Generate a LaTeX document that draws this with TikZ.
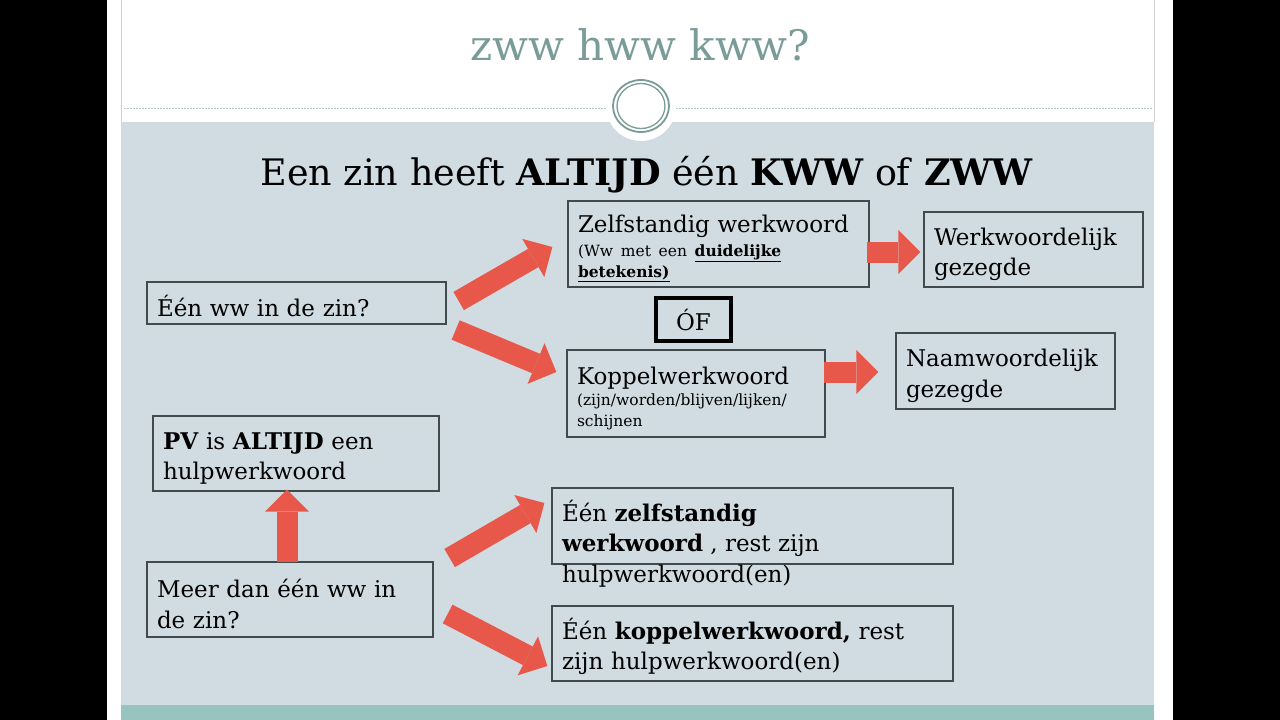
\documentclass[tikz,border=0pt]{standalone}
\usepackage{fontspec}
\setmainfont{DejaVu Serif}
\usetikzlibrary{arrows.meta,calc}

\definecolor{panel}{RGB}{208,220,225}
\definecolor{teal}{RGB}{122,156,152}
\definecolor{bar}{RGB}{152,196,192}
\definecolor{arrowred}{RGB}{232,88,74}
\definecolor{boxline}{RGB}{66,74,78}

\newcommand{\smalltxt}{\fontsize{15.5}{21}\selectfont}

\tikzset{
  box/.style={draw=boxline, line width=1.3pt, inner xsep=10pt, inner ysep=4pt,
    align=left, font=\fontsize{23}{30.5}\selectfont},
  lowbox/.style={box, execute at begin node={\rule{0pt}{27pt}}},
  bigarrow/.style={draw=arrowred, line width=21pt,
    -{Triangle[width=44pt,length=22pt,line width=0pt]}},
}

\begin{document}
\begin{tikzpicture}[x=1pt,y=-1pt]
\useasboundingbox (0,0) rectangle (1280,720);

% slide background
\fill[black] (0,0) rectangle (1280,720);
\fill[white] (107,0) rectangle (1173,720);
\fill[panel] (121,122) rectangle (1154,705);
\fill[bar] (121,705) rectangle (1154,720);
\draw[black!18] (121,0) -- (121,122) (1154,0) -- (1154,122);
\draw[teal!55, dash pattern=on 2pt off 1pt] (124,108) -- (1152,108);
\fill[white] (641,106) ellipse [x radius=35, y radius=35];
\draw[teal, line width=1.8pt] (641,106) ellipse [x radius=28, y radius=26];
\draw[teal, line width=1.3pt] (641,106) ellipse [x radius=24, y radius=22.5];

% headings
\node[teal, anchor=base, font=\fontsize{42}{50}\selectfont] (title) at (640,60) {zww hww kww?};
\node[anchor=base, font=\fontsize{36.5}{44}\selectfont] (rule) at (647,185)
  {Een zin heeft \textbf{ALTIJD} één \textbf{KWW} of \textbf{ZWW}};

% boxes
\node[lowbox, text width=279pt, minimum height=42pt] (een) at (296.5,303) {Één ww in de zin?};
\node[lowbox, text width=281pt, minimum height=86pt] (zelf) at (718.5,244)
  {Zelfstandig werkwoord\par\vspace{3pt}
   {\smalltxt (Ww met een \textbf{\underline{duidelijke}}\par \textbf{\underline{betekenis)}}\par}};
\node[draw=black, line width=4pt, minimum width=75pt, minimum height=43pt,
  font=\fontsize{23}{30}\selectfont] (of) at (693.5,319.5) {ÓF};
\node[lowbox, text width=238pt, minimum height=87pt] (koppel) at (696,393.5)
  {Koppelwerkwoord\par
   {\smalltxt (zijn/worden/blijven/lijken/\par schijnen\par}};
\node[lowbox, text width=199pt, minimum height=75pt] (wwg) at (1033.5,249.5) {Werkwoordelijk\\ gezegde};
\node[lowbox, text width=199pt, minimum height=76pt] (nwg) at (1005.5,371) {Naamwoordelijk\\ gezegde};
\node[lowbox, text width=266pt, minimum height=75pt] (pv) at (296,453.5)
  {\textbf{PV} is \textbf{ALTIJD} een\\ hulpwerkwoord};
\node[lowbox, text width=266pt, minimum height=75pt] (meer) at (290,599.5) {Meer dan één ww in\\ de zin?};
\node[box, inner ysep=7pt] (eenzelf) at (752.5,526)
  {\parbox[t][62pt][t]{381pt}{\rule{0pt}{26pt}Één \textbf{zelfstandig}\\
   \textbf{werkwoord} , rest zijn\\ hulpwerkwoord(en)}};
\node[lowbox, text width=381pt, minimum height=75pt] (eenkop) at (752.5,643.5)
  {Één \textbf{koppelwerkwoord,} rest\\ zijn hulpwerkwoord(en)};

% arrow ends
\coordinate (eenZelf) at ($(een.east)+(12,-2)$);
\coordinate (zelfIn) at ($(zelf.west)+(-15,3)$);
\coordinate (eenKoppel) at ($(een.east)+(9,27)$);
\coordinate (koppelIn) at ($(koppel.west)+(-10,-21.5)$);
\coordinate (zelfOut) at ($(zelf.east)+(-3,8)$);
\coordinate (wwgIn) at ($(wwg.west)+(-3,2.5)$);
\coordinate (koppelOut) at ($(koppel.east)+(-2,-21.5)$);
\coordinate (nwgIn) at ($(nwg.west)+(-17,1)$);
\coordinate (meerUp) at ($(meer.north)+(-3,1)$);
\coordinate (pvIn) at ($(pv.south)+(-9,-2)$);
\coordinate (meerZelf) at ($(meer.east)+(16,-41.5)$);
\coordinate (eenzelfIn) at ($(eenzelf.west)+(-7,-23)$);
\coordinate (meerKoppel) at ($(meer.east)+(14,14.5)$);
\coordinate (eenkopIn) at ($(eenkop.west)+(-4,22.5)$);

\foreach \from/\to in {eenZelf/zelfIn, eenKoppel/koppelIn, zelfOut/wwgIn, koppelOut/nwgIn,
  meerUp/pvIn, meerZelf/eenzelfIn, meerKoppel/eenkopIn}
  \draw[bigarrow] (\from) -- (\to);

\end{tikzpicture}
\end{document}
